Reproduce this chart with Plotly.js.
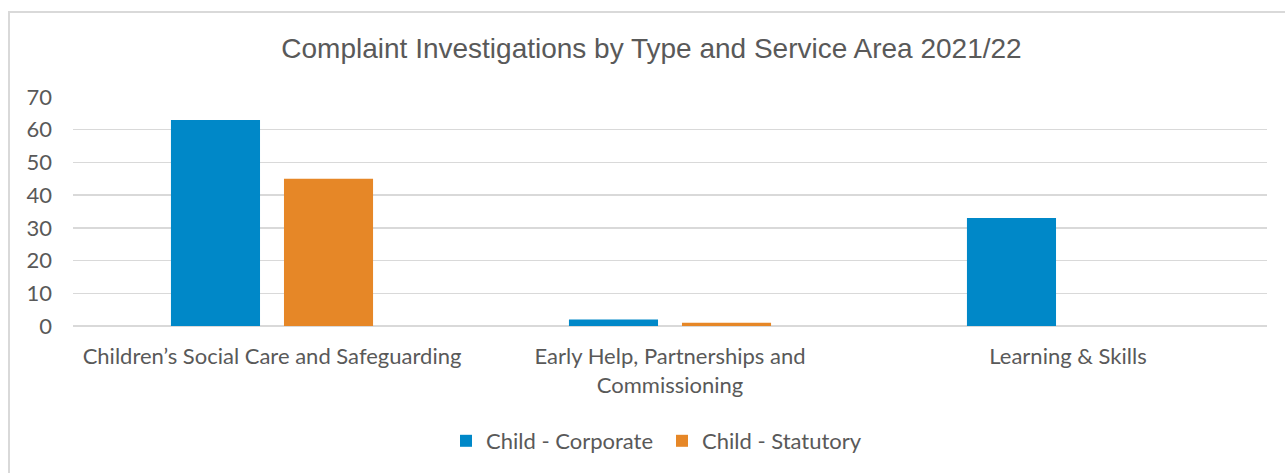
<!DOCTYPE html>
<html>
<head>
<meta charset="utf-8">
<script src="https://cdn.plot.ly/plotly-3.0.1.min.js"></script>
<style>
  html, body { margin: 0; padding: 0; background: #ffffff; }
  #frame { position: absolute; left: 8px; top: 11px; width: 1300px; height: 500px;
           border-left: 2px solid #d9d9d9; border-top: 2px solid #d9d9d9; }
  #chart { position: absolute; left: 0; top: 0; width: 1285px; height: 473px; }
</style>
</head>
<body>
<div id="frame"></div>
<div id="chart"></div>
<script>
const categories = [
  "Children’s Social Care and Safeguarding",
  "Early Help, Partnerships and<br>Commissioning",
  "Learning & Skills"
];
const seriesNames = ["Child - Corporate", "Child - Statutory"];
const corporate = [63, 2, 33];
const statutory = [45, 1, 0];
const yTicks = [0, 10, 20, 30, 40, 50, 60, 70];

const textColor = "#595959";
const bodyFont = "Lato, 'Open Sans', sans-serif";

const traces = [
  { type: "bar", name: seriesNames[0], x: categories, y: corporate,
    marker: { color: "#0088C8" }, hoverinfo: "x+y" },
  { type: "bar", name: seriesNames[1], x: categories, y: statutory,
    marker: { color: "#E68727" }, hoverinfo: "x+y" }
];

const layout = {
  width: 1285, height: 473,
  paper_bgcolor: "rgba(0,0,0,0)",
  plot_bgcolor: "rgba(0,0,0,0)",
  margin: { l: 73, r: 18, t: 97, b: 146 },
  barmode: "group",
  bargap: 0.432,
  bargroupgap: 0.212,
  title: {
    text: "Complaint Investigations by Type and Service Area 2021/22",
    font: { family: "'Liberation Sans', Arial, sans-serif", size: 28, color: textColor },
    x: 0.507, xref: "container", xanchor: "center",
    y: 1 - 48 / 473, yref: "container", yanchor: "middle"
  },
  xaxis: {
    type: "category",
    showgrid: false, zeroline: false, showline: false, ticks: "",
    tickfont: { family: bodyFont, size: 22, color: textColor },
    ticklabelstandoff: 15
  },
  yaxis: {
    range: [0, 70],
    tickvals: yTicks,
    ticktext: yTicks.map(String),
    showgrid: true, gridcolor: "#d9d9d9", gridwidth: 1.5,
    zeroline: true, zerolinecolor: "#d9d9d9", zerolinewidth: 1.5,
    showline: false, ticks: "",
    tickfont: { family: bodyFont, size: 22, color: textColor },
    ticklabelstandoff: 20
  },
  showlegend: true,
  legend: {
    orientation: "h",
    x: 0.3124, xanchor: "left",
    y: -114 / 230, yanchor: "middle",
    entrywidth: 171, entrywidthmode: "pixels",
    font: { family: bodyFont, size: 22, color: textColor },
    itemclick: false, itemdoubleclick: false
  }
};

Plotly.newPlot("chart", traces, layout, { displayModeBar: false, staticPlot: true });
</script>
</body>
</html>
